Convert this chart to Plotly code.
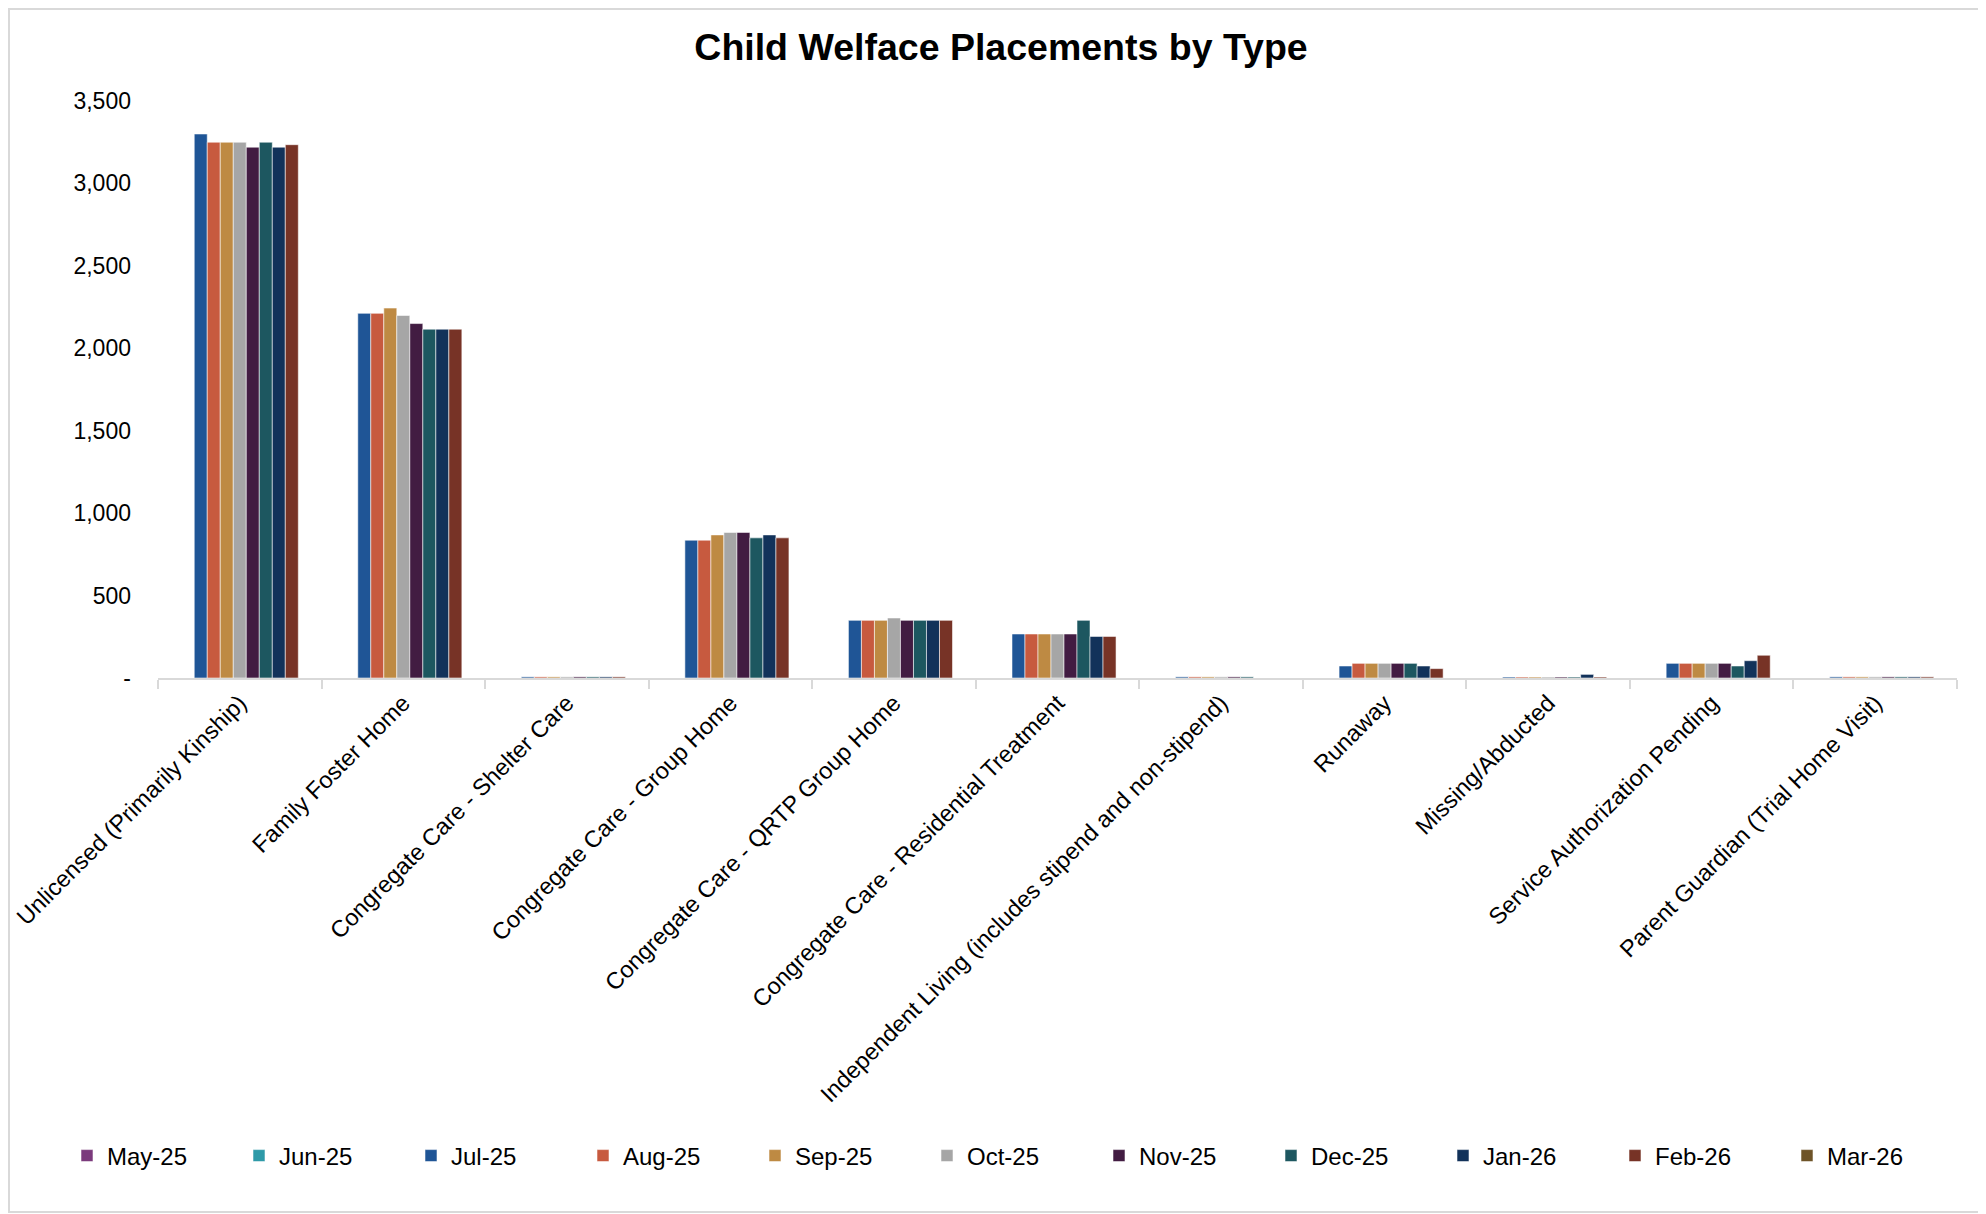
import plotly.graph_objects as go

categories = [
    "Unlicensed (Primarily Kinship)",
    "Family Foster Home",
    "Congregate Care - Shelter Care",
    "Congregate Care - Group Home",
    "Congregate Care - QRTP Group Home",
    "Congregate Care - Residential Treatment",
    "Independent Living (includes stipend and non-stipend)",
    "Runaway",
    "Missing/Abducted",
    "Service Authorization Pending",
    "Parent Guardian (Trial Home Visit)",
]

months = ["May-25", "Jun-25", "Jul-25", "Aug-25", "Sep-25", "Oct-25",
          "Nov-25", "Dec-25", "Jan-26", "Feb-26", "Mar-26"]

N = None
may_25 = [N] * 11
jun_25 = [N] * 11
jul_25 = [3300, 2212, 7, 836, 350, 267, 7, 73, 6, 89, 7]
aug_25 = [3250, 2212, 7, 836, 350, 267, 7, 89, 6, 89, 7]
sep_25 = [3250, 2244, 7, 868, 350, 267, 7, 89, 6, 89, 7]
oct_25 = [3250, 2199, 7, 883, 364, 267, 7, 89, 6, 89, 7]
nov_25 = [3220, 2150, 7, 883, 350, 267, 7, 89, 6, 89, 7]
dec_25 = [3250, 2116, 7, 850, 350, 350, 7, 89, 6, 73, 7]
jan_26 = [3220, 2116, 7, 868, 350, 252, 0, 73, 22, 105, 7]
feb_26 = [3235, 2116, 7, 850, 350, 252, 0, 57, 6, 138, 7]
mar_26 = [N] * 11

series = [may_25, jun_25, jul_25, aug_25, sep_25, oct_25,
          nov_25, dec_25, jan_26, feb_26, mar_26]

colors = ["#7B3A7C", "#2E9AA8", "#1F5596", "#C75A3F", "#BE8A43", "#A6A6A6",
          "#421C42", "#1D5760", "#12325A", "#773326", "#6E5428"]

y_ticks = [0, 500, 1000, 1500, 2000, 2500, 3000, 3500]
y_tick_text = ["-", "500", "1,000", "1,500", "2,000", "2,500", "3,000", "3,500"]

# page body adds an 8px offset; compensate so the screenshot matches
OFF = 8
W, H = 1986, 1214
ML, MR, MT, MB = 158 - OFF, 29 + OFF, 101 - OFF, 536 + OFF
PW, PH = W - ML - MR, H - MT - MB

FONT = "Arial, 'Liberation Sans', sans-serif"

fig = go.Figure()
for name, vals, col in zip(months, series, colors):
    fig.add_trace(go.Bar(
        x=categories, y=vals, name=name,
        marker=dict(color=col, line=dict(color="rgba(255,255,255,0.55)", width=1)),
    ))

def fx(px):
    # px in figure (svg) coordinates
    return (px - ML) / PW

def fy(py):
    return (H - MB - py) / PH

fig.update_layout(
    width=W, height=H,
    margin=dict(l=ML, r=MR, t=MT, b=MB),
    paper_bgcolor="white", plot_bgcolor="white",
    barmode="group", bargap=0.125, bargroupgap=0,
    font=dict(family=FONT, size=24, color="black"),
    title=dict(text="<b>Child Welface Placements by Type</b>",
               x=0.5, xanchor="center", y=1 - 39 / H, yanchor="middle",
               font=dict(family=FONT, size=37.5, color="black")),
    xaxis=dict(
        type="category", tickangle=-45, automargin=False,
        showline=True, linecolor="#D9D9D9", linewidth=2,
        ticks="outside", tickson="boundaries", ticklen=9, tickcolor="#D9D9D9", tickwidth=2,
        showgrid=False, tickfont=dict(size=23.5, family=FONT, color="black"),
    ),
    yaxis=dict(
        range=[0, 3500], tickvals=y_ticks, ticktext=y_tick_text,
        showgrid=False, zeroline=False, showline=False, automargin=False,
        ticks="", ticklabelstandoff=26,
        tickfont=dict(size=23, family=FONT, color="black"),
    ),
    legend=dict(
        orientation="h", x=fx(59), xanchor="left",
        y=fy(1148), yanchor="middle",
        entrywidth=127, entrywidthmode="pixels",
        font=dict(size=24, family=FONT, color="black"),
        itemwidth=30, tracegroupgap=0,
    ),
    showlegend=True,
    shapes=[dict(type="rect", xref="paper", yref="paper",
                 x0=fx(1), x1=fx(1972),
                 y0=fy(1204), y1=fy(1),
                 line=dict(color="#D9D9D9", width=2), fillcolor="rgba(0,0,0,0)",
                 layer="below")],
)

fig.write_html("out.html")
